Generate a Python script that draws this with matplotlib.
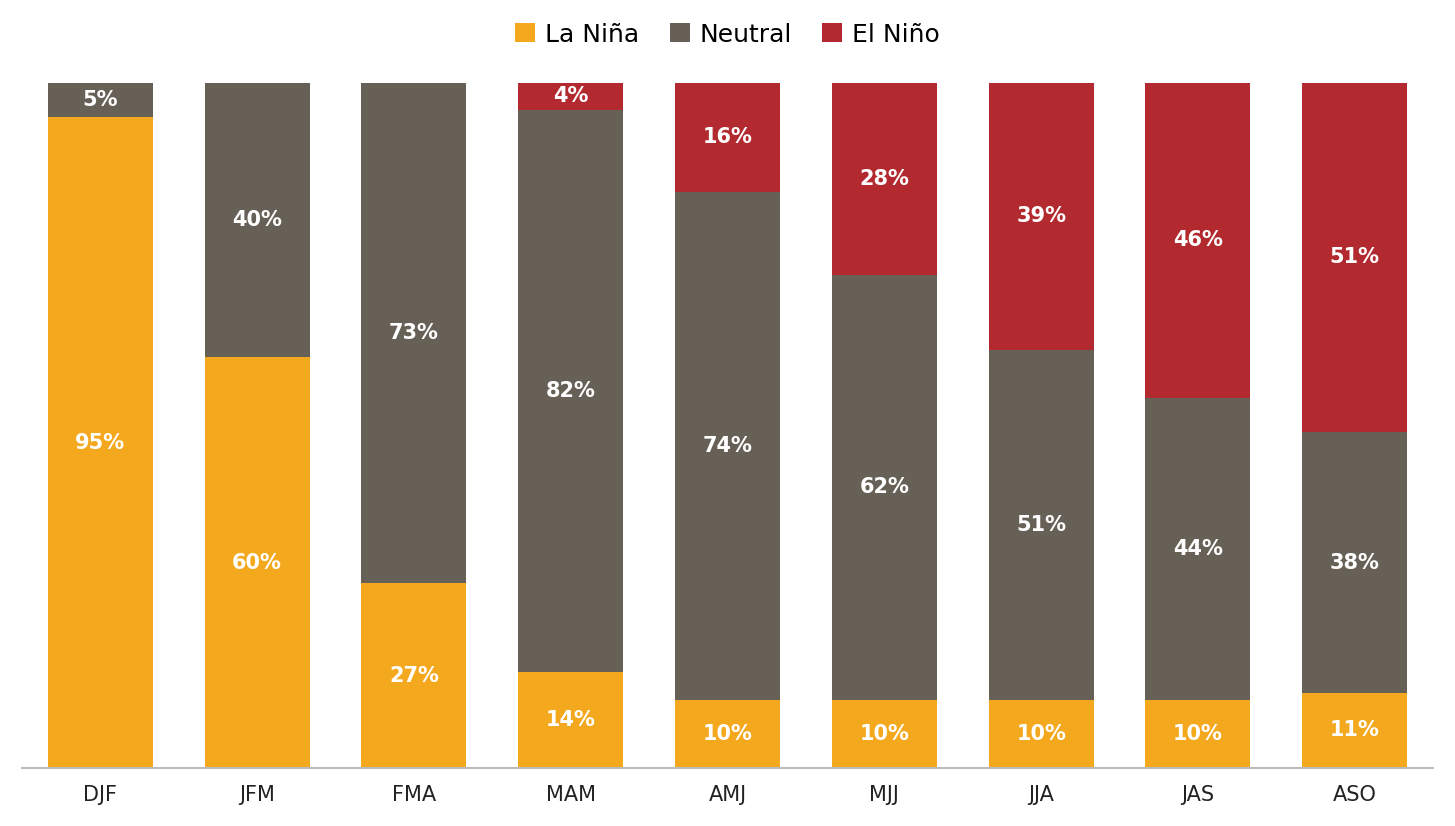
import matplotlib.pyplot as plt
import numpy as np

seasons = ["DJF", "JFM", "FMA", "MAM", "AMJ", "MJJ", "JJA", "JAS", "ASO"]
la_nina = [95, 60, 27, 14, 10, 10, 10, 10, 11]
neutral = [5, 40, 73, 82, 74, 62, 51, 44, 38]
el_nino = [0, 0, 0, 4, 16, 28, 39, 46, 51]

colors = ["#F4A81D", "#676056", "#B22A2F"]
names = ["La Niña", "Neutral", "El Niño"]

fig = plt.figure(figsize=(14.55, 8.26), dpi=100)
ax = fig.add_axes([0.015, 0.07, 0.97, 0.83])

x = np.arange(len(seasons))
bottom = np.zeros(len(seasons))
for vals, c, n in zip([la_nina, neutral, el_nino], colors, names):
    vals = np.array(vals, dtype=float)
    ax.bar(x, vals, 0.67, bottom=bottom, color=c, label=n)
    for xi, v, b in zip(x, vals, bottom):
        if v > 0:
            ax.text(xi, b + v / 2, f"{int(v)}%", ha="center", va="center",
                    color="white", fontsize=15, fontweight="bold")
    bottom += vals

ax.set_xlim(-0.5, len(seasons) - 0.5)
ax.set_ylim(0, 100)
ax.set_xticks(x)
ax.set_xticklabels(seasons, fontsize=15, color="#222222")
ax.tick_params(axis="x", length=0, pad=12)
ax.set_yticks([])
for s in ["top", "right", "left"]:
    ax.spines[s].set_visible(False)
ax.spines["bottom"].set_color("#BBBBBB")
ax.spines["bottom"].set_linewidth(1.5)

fig.legend(loc="upper center", ncol=3, frameon=False, fontsize=18,
           bbox_to_anchor=(0.5, 1.0), handlelength=0.8, handleheight=0.8,
           handletextpad=0.4, columnspacing=1.2)

fig.savefig("out.png")
